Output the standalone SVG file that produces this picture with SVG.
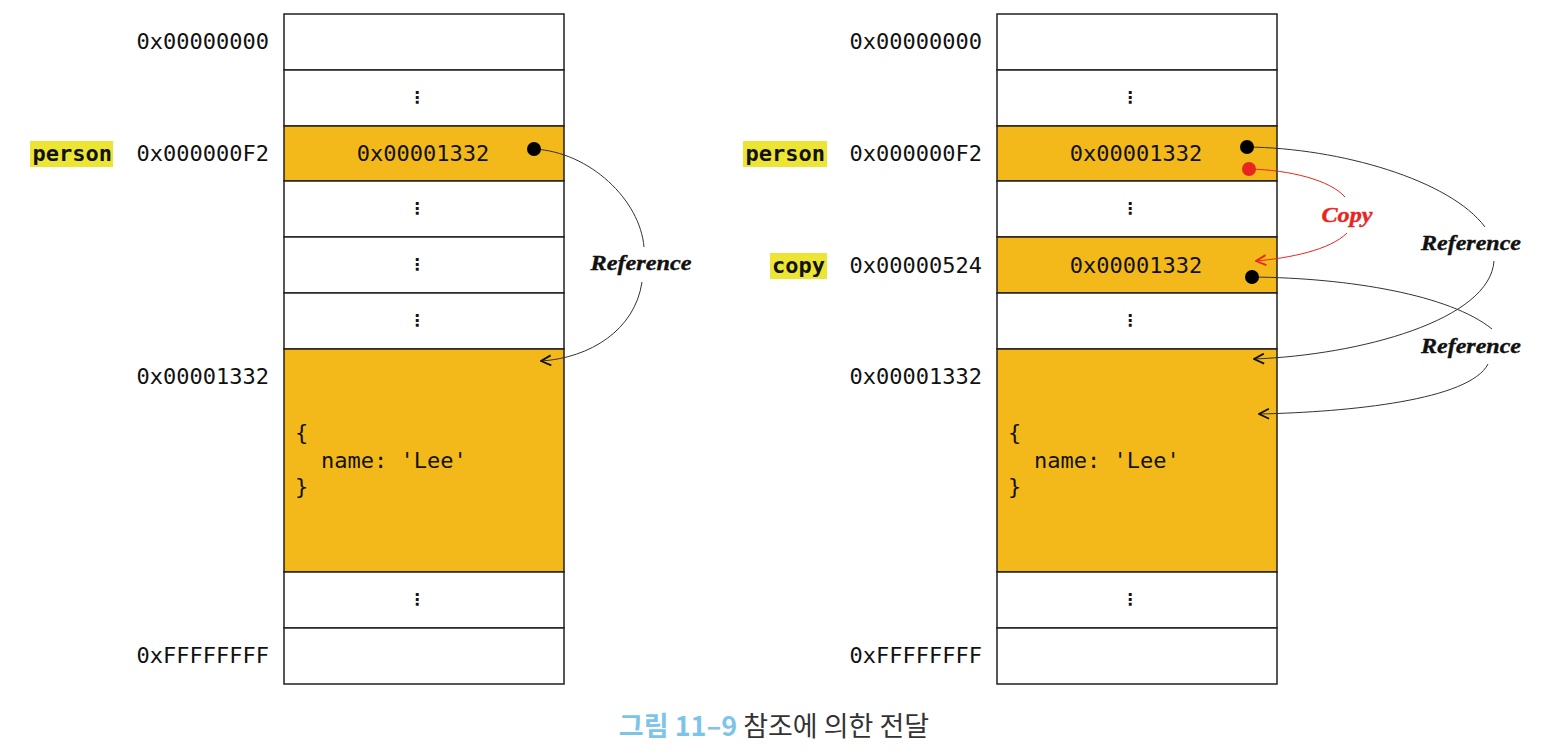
<svg xmlns="http://www.w3.org/2000/svg" width="1550" height="754" viewBox="0 0 1550 754">
<style>
.cell{fill:#fff;stroke:#231f20;stroke-width:1.5}
.gold{fill:#F3B91A;stroke:#231f20;stroke-width:1.5}
.addr{font-family:"DejaVu Sans Mono","Liberation Mono",monospace;font-size:22px;fill:#111;text-anchor:end}
.val{font-family:"DejaVu Sans Mono","Liberation Mono",monospace;font-size:22px;fill:#111;text-anchor:middle}
.code{font-family:"DejaVu Sans Mono","Liberation Mono",monospace;font-size:22px;fill:#111}
.var{font-family:"DejaVu Sans Mono","Liberation Mono",monospace;font-size:22px;font-weight:bold;fill:#111;text-anchor:end}
.hl{fill:#EDE533}
.dots{font-family:"DejaVu Sans",sans-serif;font-size:16px;font-weight:bold;fill:#111;text-anchor:middle}
.ref{font-family:"Liberation Serif",serif;font-style:italic;font-weight:bold;font-size:22px;fill:#111;text-anchor:middle;stroke:#111;stroke-width:0.4}
.conn{fill:none;stroke:#333;stroke-width:1}
.red{fill:none;stroke:#E8251F;stroke-width:1}
</style>
<defs>
<marker id="arr" viewBox="0 0 12 12" refX="11" refY="6" markerWidth="12" markerHeight="12" markerUnits="userSpaceOnUse" orient="auto">
<path d="M1,1 L11,6 L1,11" fill="none" stroke="#111" stroke-width="1.8"/>
</marker>
<marker id="arrR" viewBox="0 0 12 12" refX="11" refY="6" markerWidth="12" markerHeight="12" markerUnits="userSpaceOnUse" orient="auto">
<path d="M1,1 L11,6 L1,11" fill="none" stroke="#E8251F" stroke-width="1.8"/>
</marker>
</defs>
<rect width="1550" height="754" fill="#fff"/>

<g id="left-memory">
<rect class="cell" x="284" y="14" width="280" height="56"/>
<rect class="cell" x="284" y="70" width="280" height="56"/>
<rect class="gold" x="284" y="126" width="280" height="55"/>
<rect class="cell" x="284" y="181" width="280" height="56"/>
<rect class="cell" x="284" y="237" width="280" height="56"/>
<rect class="cell" x="284" y="293" width="280" height="56"/>
<rect class="gold" x="284" y="349" width="280" height="223"/>
<rect class="cell" x="284" y="572" width="280" height="56"/>
<rect class="cell" x="284" y="628" width="280" height="56"/>
<text class="dots" x="417" y="103">⋮</text>
<text class="dots" x="417" y="214">⋮</text>
<text class="dots" x="417" y="270">⋮</text>
<text class="dots" x="417" y="326">⋮</text>
<text class="dots" x="417" y="605">⋮</text>
<text class="val" x="423" y="161">0x00001332</text>
<text class="code" x="295" y="440">{</text>
<text class="code" x="321" y="468">name: 'Lee'</text>
<text class="code" x="295" y="494">}</text>
<text class="addr" x="269" y="49">0x00000000</text>
<text class="addr" x="269" y="161">0x000000F2</text>
<text class="addr" x="269" y="384">0x00001332</text>
<text class="addr" x="269" y="663">0xFFFFFFFF</text>
</g>
<g id="left-person">
<rect class="hl" x="30" y="141" width="83" height="26"/>
<text class="var" x="112" y="161">person</text>
</g>

<g id="right-memory">
<rect class="cell" x="997" y="14" width="280" height="56"/>
<rect class="cell" x="997" y="70" width="280" height="56"/>
<rect class="gold" x="997" y="126" width="280" height="55"/>
<rect class="cell" x="997" y="181" width="280" height="56"/>
<rect class="gold" x="997" y="237" width="280" height="56"/>
<rect class="cell" x="997" y="293" width="280" height="56"/>
<rect class="gold" x="997" y="349" width="280" height="223"/>
<rect class="cell" x="997" y="572" width="280" height="56"/>
<rect class="cell" x="997" y="628" width="280" height="56"/>
<text class="dots" x="1130" y="103">⋮</text>
<text class="dots" x="1130" y="214">⋮</text>
<text class="dots" x="1130" y="326">⋮</text>
<text class="dots" x="1130" y="605">⋮</text>
<text class="val" x="1136" y="161">0x00001332</text>
<text class="val" x="1136" y="273">0x00001332</text>
<text class="code" x="1008" y="440">{</text>
<text class="code" x="1034" y="468">name: 'Lee'</text>
<text class="code" x="1008" y="494">}</text>
<text class="addr" x="982" y="49">0x00000000</text>
<text class="addr" x="982" y="161">0x000000F2</text>
<text class="addr" x="982" y="273">0x00000524</text>
<text class="addr" x="982" y="384">0x00001332</text>
<text class="addr" x="982" y="663">0xFFFFFFFF</text>
</g>
<g id="right-person">
<rect class="hl" x="743" y="141" width="84" height="26"/>
<text class="var" x="825" y="161">person</text>
</g>
<g id="right-copy">
<rect class="hl" x="770" y="253" width="57" height="26"/>
<text class="var" x="825" y="273">copy</text>
</g>

<g id="connectors">
<path class="conn" d="M534,149 C590,152 640,200 644,247" />
<text class="ref" x="641" y="270" textLength="101" lengthAdjust="spacingAndGlyphs">Reference</text>
<path class="conn" d="M642,282 C635,330 590,358 541,361" marker-end="url(#arr)"/>

<path class="conn" d="M1247,147 C1340,148 1450,180 1485,227"/>
<text class="ref" x="1471" y="250" textLength="100" lengthAdjust="spacingAndGlyphs">Reference</text>
<path class="conn" d="M1494,261 C1490,320 1360,355 1254,359" marker-end="url(#arr)"/>

<path class="red" d="M1249,169 C1290,170 1330,180 1345,197"/>
<text class="ref" x="1347" y="222" style="fill:#E8251F;stroke:#E8251F" textLength="51" lengthAdjust="spacingAndGlyphs">Copy</text>
<path class="red" d="M1347,233 C1330,250 1290,258 1256,261" marker-end="url(#arrR)"/>

<path class="conn" d="M1252,277 C1350,278 1450,295 1492,329"/>
<text class="ref" x="1471" y="353" textLength="100" lengthAdjust="spacingAndGlyphs">Reference</text>
<path class="conn" d="M1488,364 C1470,400 1350,412 1259,414" marker-end="url(#arr)"/>

<circle cx="534" cy="149" r="7" fill="#000"/>
<circle cx="1247" cy="147" r="7" fill="#000"/>
<circle cx="1249" cy="169" r="7" fill="#E8251F"/>
<circle cx="1252" cy="277" r="7" fill="#000"/>
</g>

<g id="caption">
<text x="774" y="736" text-anchor="middle" font-family="'Noto Sans CJK KR',sans-serif" font-size="27"><tspan fill="#7EC4E8" font-weight="bold">그림 11–9</tspan><tspan fill="#333"> 참조에 의한 전달</tspan></text>
</g>
</svg>
